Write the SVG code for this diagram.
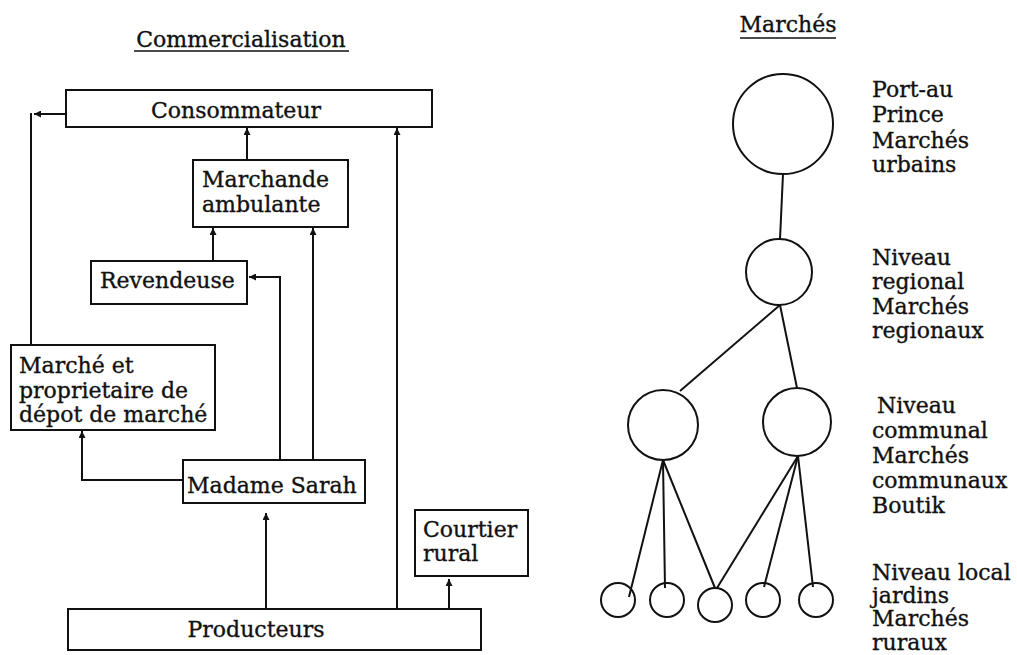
<svg xmlns="http://www.w3.org/2000/svg" width="1017" height="655" viewBox="0 0 1017 655">
<style>
text{font-family:"DejaVu Serif","Liberation Serif",serif;font-size:22px;fill:#111;stroke:#111;stroke-width:0.35}
.box{fill:#fff;stroke:#111;stroke-width:2}
.c{fill:none;stroke:#111;stroke-width:2}
.ln{fill:none;stroke:#111;stroke-width:2}
.u{stroke:#111;stroke-width:1.5}
</style>
<defs>
<marker id="ah" viewBox="0 0 10 10" refX="10" refY="5" markerUnits="userSpaceOnUse" markerWidth="10" markerHeight="7" orient="auto">
<path d="M0,0 L10,5 L0,10 z" fill="#111"/>
</marker>
</defs>
<rect width="1017" height="655" fill="#fff"/>

<g id="title-left">
<text x="241" y="47" text-anchor="middle">Commercialisation</text>
<line class="u" x1="134" y1="51" x2="349" y2="51"/>
</g>
<g id="title-right">
<text x="788" y="32" text-anchor="middle">Marchés</text>
<line class="u" x1="740" y1="38" x2="836" y2="38"/>
</g>

<g id="connectors">
<path class="ln" d="M66,114 H34" marker-end="url(#ah)"/>
<path class="ln" d="M31,113 V345"/>
<path class="ln" d="M247,160 V128" marker-end="url(#ah)"/>
<path class="ln" d="M213,261 V228" marker-end="url(#ah)"/>
<path class="ln" d="M280,459 V277 H249" marker-end="url(#ah)"/>
<path class="ln" d="M313,459 V228" marker-end="url(#ah)"/>
<path class="ln" d="M397,609 V128" marker-end="url(#ah)"/>
<path class="ln" d="M183,480 H82 V431" marker-end="url(#ah)"/>
<path class="ln" d="M266,609 V513" marker-end="url(#ah)"/>
<path class="ln" d="M449,609 V579" marker-end="url(#ah)"/>
<path class="ln" d="M783,174 L780,239"/>
<path class="ln" d="M780,305 L680,391"/>
<path class="ln" d="M780,305 L797,388"/>
<path class="ln" d="M663,460 L629,597"/>
<path class="ln" d="M663,460 L665,588"/>
<path class="ln" d="M663,460 L715,588"/>
<path class="ln" d="M798,456 L717,588"/>
<path class="ln" d="M798,456 L764,587"/>
<path class="ln" d="M798,456 L813,587"/>
</g>

<g id="consommateur">
<rect class="box" x="66" y="90" width="366" height="37"/>
<text x="236" y="118" text-anchor="middle">Consommateur</text>
</g>
<g id="marchande-ambulante">
<rect class="box" x="193" y="160" width="155" height="67"/>
<text x="202" y="187">Marchande</text>
<text x="202" y="212">ambulante</text>
</g>
<g id="revendeuse">
<rect class="box" x="91" y="261" width="156" height="43"/>
<text x="100" y="288">Revendeuse</text>
</g>
<g id="marche-proprietaire">
<rect class="box" x="11" y="345" width="204" height="85"/>
<text x="19" y="373">Marché et</text>
<text x="19" y="398">proprietaire de</text>
<text x="19" y="422">dépot de marché</text>
</g>
<g id="madame-sarah">
<rect class="box" x="183" y="460" width="182" height="43"/>
<text x="187" y="493">Madame Sarah</text>
</g>
<g id="courtier-rural">
<rect class="box" x="415" y="510" width="113" height="66"/>
<text x="423" y="537">Courtier</text>
<text x="423" y="561">rural</text>
</g>
<g id="producteurs">
<rect class="box" x="68" y="609" width="413" height="41"/>
<text x="256" y="637" text-anchor="middle">Producteurs</text>
</g>

<g id="urbain">
<circle class="c" cx="783" cy="124" r="50"/>
<text x="872" y="97">Port-au</text>
<text x="872" y="122">Prince</text>
<text x="872" y="148">Marchés</text>
<text x="872" y="172">urbains</text>
</g>
<g id="regional">
<circle class="c" cx="779" cy="272" r="33"/>
<text x="872" y="265">Niveau</text>
<text x="872" y="289">regional</text>
<text x="872" y="314">Marchés</text>
<text x="872" y="338">regionaux</text>
</g>
<g id="communal-1">
<circle class="c" cx="663" cy="425" r="35"/>
</g>
<g id="communal-2">
<circle class="c" cx="797" cy="422" r="34"/>
<text x="877" y="413">Niveau</text>
<text x="872" y="438">communal</text>
<text x="872" y="463">Marchés</text>
<text x="872" y="488">communaux</text>
<text x="872" y="513">Boutik</text>
</g>
<g id="local-1"><circle class="c" cx="618" cy="600" r="17"/></g>
<g id="local-2"><circle class="c" cx="667" cy="600" r="17"/></g>
<g id="local-3"><circle class="c" cx="715" cy="605" r="17"/>
<text x="872" y="580">Niveau local</text>
<text x="872" y="603">jardins</text>
<text x="872" y="626">Marchés</text>
<text x="872" y="650">ruraux</text>
</g>
<g id="local-4"><circle class="c" cx="763" cy="600" r="17"/></g>
<g id="local-5"><circle class="c" cx="816" cy="600" r="17"/></g>
</svg>
